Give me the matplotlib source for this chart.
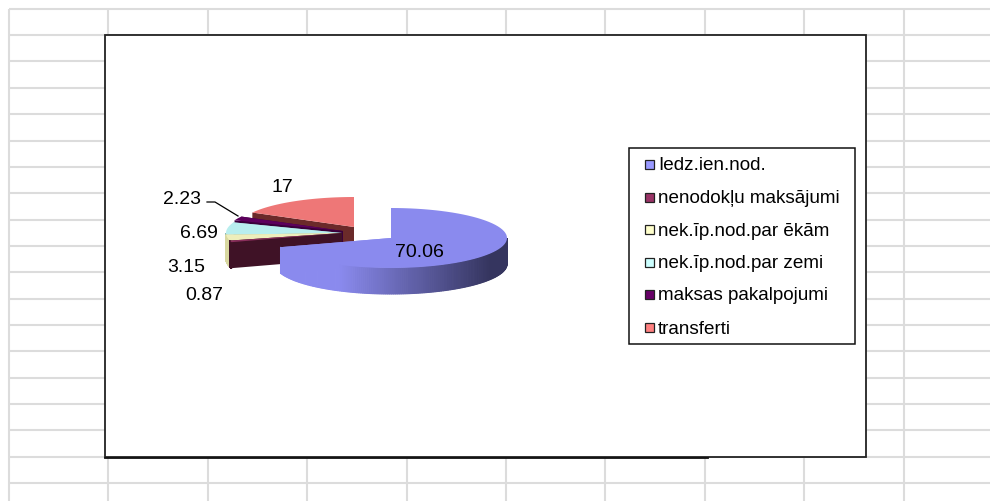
import numpy as np
import matplotlib
matplotlib.use("Agg")
import matplotlib.pyplot as plt
from matplotlib.patches import Polygon, Rectangle
from matplotlib.colors import to_rgb

#---------------------------------- DATA --------------------------------------

categories = ["Iedz.ien.nod.", "nenodokļu maksājumi", "nek.īp.nod.par ēkām",
              "nek.īp.nod.par zemi", "maksas pakalpojumi", "transferti"]
values = [70.06, 0.87, 3.15, 6.69, 2.23, 17]
value_labels = ["70.06", "0.87", "3.15", "6.69", "2.23", "17"]

legend_colors = ["#9999ff", "#993366", "#ffffcc", "#ccffff", "#660066", "#ff8080"]
top_colors = ["#8a8aee", "#8a2e5c", "#eeeebb", "#b8eeee", "#5c005c", "#ee7777"]
wall_colors = ["#8a8aee", "#3f1226", "#d8d8a0", "#8fbaba", "#3a003a", "#6b2a2a"]

#pixel layout of the pie
centers = [(391, 238), (342, 233), (342, 233), (342, 233), (343, 231), (354, 227)]
rx, ry, depth = 116, 30, 26

#---------------------------------- HELPERS -----------------------------------

def rim(cx, cy, angle):
    #angle in degrees, clockwise from the top of the pie
    a = np.radians(angle)
    return cx + rx*np.sin(a), cy - ry*np.cos(a)

def drawSlice(ax, i, start, end, z):
    cx, cy = centers[i]
    angles = np.linspace(start, end, 80)
    xs, ys = rim(cx, cy, angles)

    #cut faces
    for a in (start, end):
        ex, ey = rim(cx, cy, a)
        ax.add_patch(Polygon([(cx, cy), (ex, ey), (ex, ey + depth), (cx, cy + depth)],
                             facecolor=wall_colors[i], edgecolor="none", zorder=z))

    #outer wall, front part only
    if min(end, 270) > max(start, 90):
        front = np.linspace(max(start, 90), min(end, 270), 160)
        fx, fy = rim(cx, cy, front)
        for k in range(len(front) - 1):
            if i == 0:
                #blue side fades to dark towards the right
                t = np.clip((fx[k] - 340) / 150, 0, 1)
                c = (1 - t)*np.array(to_rgb("#8a8aee")) + t*np.array(to_rgb("#35355f"))
            else:
                c = wall_colors[i]
            ax.add_patch(Polygon([(fx[k], fy[k]), (fx[k+1], fy[k+1]),
                                  (fx[k+1], fy[k+1] + depth), (fx[k], fy[k] + depth)],
                                 facecolor=c, edgecolor=c, linewidth=0.8, zorder=z + 0.1))

    #top face
    ax.add_patch(Polygon(np.column_stack([np.r_[cx, xs], np.r_[cy, ys]]),
                         facecolor=top_colors[i], edgecolor="none", zorder=z + 0.2))

#--------------------------------- MAIN CODE ----------------------------------

if __name__ == "__main__":

    plt.rcParams["font.family"] = ["Liberation Sans", "DejaVu Sans"]

    fig = plt.figure(figsize=(9.9, 5.01), dpi=100)
    ax = fig.add_axes([0, 0, 1, 1])
    ax.set_xlim(0, 990)
    ax.set_ylim(501, 0)
    ax.axis("off")

    #spreadsheet grid behind the chart
    grid_x = 9 + 99.4*np.arange(10)
    grid_y = 8.7 + 26.36*np.arange(19)
    ax.vlines(grid_x, 8.7, 501, color="#dcdcdc", linewidth=1.5, zorder=1)
    ax.hlines(grid_y, 9, 990, color="#dcdcdc", linewidth=1.5, zorder=1)

    #chart area
    ax.add_patch(Rectangle((105, 35), 761, 422, facecolor="white",
                           edgecolor="#222222", linewidth=1.3, zorder=2))
    ax.plot([105, 708], [458, 458], color="#111111", linewidth=1.3, zorder=2)

    #slices back to front, the blue one goes on top of the rest
    bounds = np.r_[0, np.cumsum(values)] / np.sum(values) * 360
    for z, i in enumerate(range(len(values) - 1, -1, -1)):
        drawSlice(ax, i, bounds[i], bounds[i + 1], 3 + z)

    #data labels
    label_pos = [(419, 252.5), (204, 296), (186, 267), (199, 233), (182, 200), (282, 188)]
    for text, (x, y) in zip(value_labels, label_pos):
        ax.text(x, y, text, fontsize=14, ha="center", va="center", color="black", zorder=12)
    ax.plot([207, 215, 238], [202, 202, 216], color="black", linewidth=0.9, zorder=11)

    #legend
    ax.add_patch(Rectangle((628.5, 148), 226.5, 196, facecolor="white",
                           edgecolor="#111111", linewidth=1.1, zorder=2))
    legend_y = [165, 197.5, 230, 263, 295, 328]
    for name, color, y in zip(categories, legend_colors, legend_y):
        ax.add_patch(Rectangle((644.5, y - 5), 9, 9, facecolor=color,
                               edgecolor="#222222", linewidth=0.9, zorder=3))
        ax.text(658, y + 1, name, fontsize=13.6, ha="left", va="center", color="black", zorder=3)

    fig.savefig("out.png", dpi=100, facecolor="white")
